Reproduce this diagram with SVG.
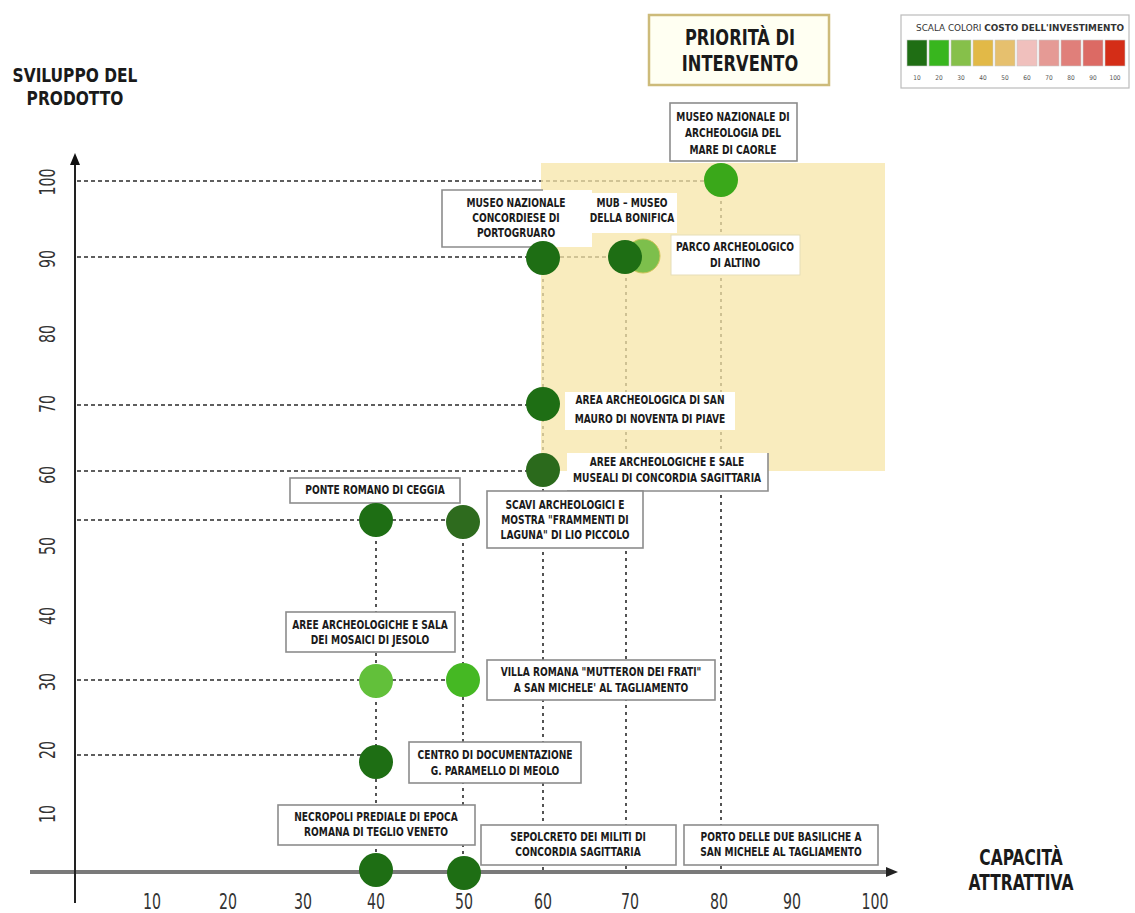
<svg xmlns="http://www.w3.org/2000/svg" width="1135" height="913" viewBox="0 0 1135 913">
<style>
text{font-family:"Liberation Sans Narrow","DejaVu Sans Condensed","Liberation Sans",sans-serif;}
.lbl{font-size:11.5px;font-weight:bold;fill:#1a1a1a;text-anchor:middle;}
.box{fill:#fff;stroke:#8c8c8c;stroke-width:1.6;}
.boxl{fill:#fff;stroke:#e6ddb8;stroke-width:1;}
.hd{stroke:#2a2a2a;stroke-width:1.6;stroke-dasharray:4 3;fill:none;}
.vd{stroke:#2a2a2a;stroke-width:1.6;stroke-dasharray:3 4;fill:none;}
.tick{font-size:21px;fill:#333;text-anchor:middle;}
.big{font-weight:bold;fill:#1a1a1a;text-anchor:middle;}
.dk{fill:#1e6e14;}
.leg{font-size:6.5px;fill:#555;text-anchor:middle;}
</style>
<rect width="1135" height="913" fill="#fff"/>

<!-- Axis titles -->
<g id="axis-y-title" transform="translate(75,0) scale(0.88,1)">
<text class="big" font-size="19.5" x="0" y="82">SVILUPPO DEL</text>
<text class="big" font-size="19.5" x="0" y="105">PRODOTTO</text>
</g>
<g id="axis-x-title" transform="translate(1021,0) scale(0.82,1)">
<text class="big" font-size="21" x="0" y="865">CAPACITÀ</text>
<text class="big" font-size="21" x="0" y="890">ATTRATTIVA</text>
</g>

<!-- Title box -->
<g id="priority-title">
<rect x="649" y="15" width="180" height="70" fill="#fffff2" stroke="#cdbb7a" stroke-width="2.5"/>
<g transform="translate(740,0) scale(0.82,1)">
<text class="big" font-size="22" x="0" y="45">PRIORITÀ DI</text>
<text class="big" font-size="22" x="0" y="71">INTERVENTO</text>
</g>
</g>

<!-- Legend -->
<g id="legend">
<rect x="901" y="15" width="228" height="73" fill="#fff" stroke="#bbb" stroke-width="1.2"/>
<text x="1020" y="31" font-size="8" fill="#333" text-anchor="middle" textLength="208" lengthAdjust="spacingAndGlyphs">SCALA COLORI <tspan font-weight="bold">COSTO DELL'INVESTIMENTO</tspan></text>
<g stroke="#c8c8c8" stroke-width="0.6">
<rect x="907" y="40" width="20" height="26" fill="#1f6e14"/>
<rect x="929" y="40" width="20" height="26" fill="#38b61e"/>
<rect x="951" y="40" width="20" height="26" fill="#86c04a"/>
<rect x="973" y="40" width="20" height="26" fill="#e2b947"/>
<rect x="995" y="40" width="20" height="26" fill="#e6c06e"/>
<rect x="1017" y="40" width="20" height="26" fill="#f0c0bd"/>
<rect x="1039" y="40" width="20" height="26" fill="#e59a95"/>
<rect x="1061" y="40" width="20" height="26" fill="#e07f7a"/>
<rect x="1083" y="40" width="20" height="26" fill="#dc6a64"/>
<rect x="1105" y="40" width="20" height="26" fill="#d42d17"/>
</g>
<text class="leg" x="917" y="80">10</text>
<text class="leg" x="939" y="80">20</text>
<text class="leg" x="961" y="80">30</text>
<text class="leg" x="983" y="80">40</text>
<text class="leg" x="1005" y="80">50</text>
<text class="leg" x="1027" y="80">60</text>
<text class="leg" x="1049" y="80">70</text>
<text class="leg" x="1071" y="80">80</text>
<text class="leg" x="1093" y="80">90</text>
<text class="leg" x="1115" y="80">100</text>
</g>

<!-- Connectors: guide lines -->
<g id="connectors">
<path class="hd" d="M77 181H720 M77 257H625 M77 405H543 M77 471H543 M77 520H462 M77 680H462 M77 755H376"/>
<path class="vd" d="M376 520V872 M463 522V872 M543 258V872 M626 257V872 M721 180V872"/>
</g>

<!-- Priority area -->
<rect id="priority-area" x="541" y="163" width="344" height="308" fill="#f7e6a8" opacity="0.75"/>

<g id="axes">
<line x1="30" y1="872" x2="890" y2="872" stroke="#7a7a7a" stroke-width="4"/>
<polygon points="898,872 886,867 886,877" fill="#222"/>
<line x1="75" y1="163" x2="75" y2="903" stroke="#222" stroke-width="2"/>
<polygon points="75,153 70,165 80,165" fill="#111"/>
</g>

<g id="y-ticks">
<text class="tick" transform="translate(55,182) rotate(-90) scale(0.75,1)">100</text>
<text class="tick" transform="translate(55,259) rotate(-90) scale(0.75,1)">90</text>
<text class="tick" transform="translate(55,334) rotate(-90) scale(0.75,1)">80</text>
<text class="tick" transform="translate(55,404) rotate(-90) scale(0.75,1)">70</text>
<text class="tick" transform="translate(55,475) rotate(-90) scale(0.75,1)">60</text>
<text class="tick" transform="translate(55,546) rotate(-90) scale(0.75,1)">50</text>
<text class="tick" transform="translate(55,616) rotate(-90) scale(0.75,1)">40</text>
<text class="tick" transform="translate(55,682) rotate(-90) scale(0.75,1)">30</text>
<text class="tick" transform="translate(55,750) rotate(-90) scale(0.75,1)">20</text>
<text class="tick" transform="translate(55,814) rotate(-90) scale(0.75,1)">10</text>
</g>
<g id="x-ticks">
<text class="tick" transform="translate(152,909) scale(0.75,1)">10</text>
<text class="tick" transform="translate(228,909) scale(0.75,1)">20</text>
<text class="tick" transform="translate(303,909) scale(0.75,1)">30</text>
<text class="tick" transform="translate(376,909) scale(0.75,1)">40</text>
<text class="tick" transform="translate(464,909) scale(0.75,1)">50</text>
<text class="tick" transform="translate(543,909) scale(0.75,1)">60</text>
<text class="tick" transform="translate(630,909) scale(0.75,1)">70</text>
<text class="tick" transform="translate(719,909) scale(0.75,1)">80</text>
<text class="tick" transform="translate(792,909) scale(0.75,1)">90</text>
<text class="tick" transform="translate(875,909) scale(0.75,1)">100</text>
</g>

<!-- Nodes -->
<g id="caorle">
<rect class="box" x="670" y="103" width="127" height="58"/>
<g transform="translate(733,0) scale(0.88,1)">
<text class="lbl" x="0" y="121">MUSEO NAZIONALE DI</text>
<text class="lbl" x="0" y="137">ARCHEOLOGIA DEL</text>
<text class="lbl" x="0" y="154">MARE DI CAORLE</text>
</g>
<circle cx="721" cy="180" r="17" fill="#3aa81a"/>
</g>

<g id="portogruaro">
<rect x="442" y="190" width="150" height="57" fill="#fff"/>
<path d="M543 190H442V247H543" fill="none" stroke="#8c8c8c" stroke-width="1.6"/>
<g transform="translate(516,0) scale(0.88,1)">
<text class="lbl" x="0" y="207">MUSEO NAZIONALE</text>
<text class="lbl" x="0" y="222">CONCORDIESE DI</text>
<text class="lbl" x="0" y="237">PORTOGRUARO</text>
</g>
<circle class="dk" cx="543" cy="258" r="17"/>
</g>

<g id="mub">
<rect x="587" y="193" width="90" height="40" fill="#fff"/>
<g transform="translate(632,0) scale(0.88,1)">
<text class="lbl" x="0" y="207">MUB – MUSEO</text>
<text class="lbl" x="0" y="222">DELLA BONIFICA</text>
</g>
<circle cx="643" cy="256" r="17" fill="#7dbf4c" stroke="#d2c45a" stroke-width="1"/>
<circle class="dk" cx="625" cy="257" r="17"/>
</g>

<g id="altino">
<rect class="boxl" x="671" y="235" width="129" height="40"/>
<g transform="translate(735,0) scale(0.88,1)">
<text class="lbl" x="0" y="251">PARCO ARCHEOLOGICO</text>
<text class="lbl" x="0" y="267">DI ALTINO</text>
</g>
</g>

<g id="san-mauro">
<rect x="565" y="392" width="170" height="38" fill="#fff"/>
<g transform="translate(650,0) scale(0.88,1)">
<text class="lbl" x="0" y="404">AREA ARCHEOLOGICA DI SAN</text>
<text class="lbl" x="0" y="423">MAURO DI NOVENTA DI PIAVE</text>
</g>
<circle class="dk" cx="543" cy="404" r="17"/>
</g>

<g id="concordia-musei">
<rect x="567" y="453" width="201" height="38" fill="#fff"/>
<path d="M567 491H768V453" fill="none" stroke="#8c8c8c" stroke-width="1.6"/>
<g transform="translate(667,0) scale(0.88,1)">
<text class="lbl" x="0" y="466">AREE ARCHEOLOGICHE E SALE</text>
<text class="lbl" x="0" y="482">MUSEALI DI CONCORDIA SAGITTARIA</text>
</g>
<circle cx="543" cy="470" r="17" fill="#2b6a1c"/>
</g>

<g id="lio-piccolo">
<rect class="box" x="487" y="491" width="156" height="57"/>
<g transform="translate(565,0) scale(0.88,1)">
<text class="lbl" x="0" y="509">SCAVI ARCHEOLOGICI E</text>
<text class="lbl" x="0" y="524">MOSTRA "FRAMMENTI DI</text>
<text class="lbl" x="0" y="539">LAGUNA" DI LIO PICCOLO</text>
</g>
<circle cx="463" cy="522" r="17" fill="#2e6b1e"/>
</g>

<g id="ceggia">
<rect class="box" x="290" y="478" width="170" height="25"/>
<g transform="translate(375,0) scale(0.88,1)">
<text class="lbl" x="0" y="494">PONTE ROMANO DI CEGGIA</text>
</g>
<circle class="dk" cx="376" cy="520" r="17"/>
</g>

<g id="jesolo">
<rect class="box" x="286" y="612" width="169" height="40"/>
<g transform="translate(370,0) scale(0.88,1)">
<text class="lbl" x="0" y="629">AREE ARCHEOLOGICHE E SALA</text>
<text class="lbl" x="0" y="644">DEI MOSAICI DI JESOLO</text>
</g>
<circle cx="376" cy="681" r="17" fill="#62c03a"/>
</g>

<g id="villa-romana">
<rect class="box" x="487" y="660" width="228" height="40"/>
<g transform="translate(601,0) scale(0.88,1)">
<text class="lbl" x="0" y="676">VILLA ROMANA "MUTTERON DEI FRATI"</text>
<text class="lbl" x="0" y="692">A SAN MICHELE' AL TAGLIAMENTO</text>
</g>
<circle cx="463" cy="680" r="17" fill="#45b823"/>
</g>

<g id="meolo">
<rect class="box" x="409" y="742" width="172" height="41"/>
<g transform="translate(495,0) scale(0.88,1)">
<text class="lbl" x="0" y="759">CENTRO DI DOCUMENTAZIONE</text>
<text class="lbl" x="0" y="775">G. PARAMELLO DI MEOLO</text>
</g>
<circle class="dk" cx="376" cy="762" r="17"/>
</g>

<g id="teglio">
<rect class="box" x="278" y="805" width="197" height="40"/>
<g transform="translate(376,0) scale(0.88,1)">
<text class="lbl" x="0" y="821">NECROPOLI PREDIALE DI EPOCA</text>
<text class="lbl" x="0" y="836">ROMANA DI TEGLIO VENETO</text>
</g>
<circle class="dk" cx="376" cy="870" r="17"/>
</g>

<g id="sepolcreto">
<rect class="box" x="481" y="825" width="195" height="40"/>
<g transform="translate(578,0) scale(0.88,1)">
<text class="lbl" x="0" y="841">SEPOLCRETO DEI MILITI DI</text>
<text class="lbl" x="0" y="856">CONCORDIA SAGITTARIA</text>
</g>
<circle class="dk" cx="464" cy="873" r="17"/>
</g>

<g id="porto">
<rect class="box" x="684" y="825" width="194" height="40"/>
<g transform="translate(781,0) scale(0.88,1)">
<text class="lbl" x="0" y="841">PORTO DELLE DUE BASILICHE A</text>
<text class="lbl" x="0" y="856">SAN MICHELE AL TAGLIAMENTO</text>
</g>
</g>
</svg>
